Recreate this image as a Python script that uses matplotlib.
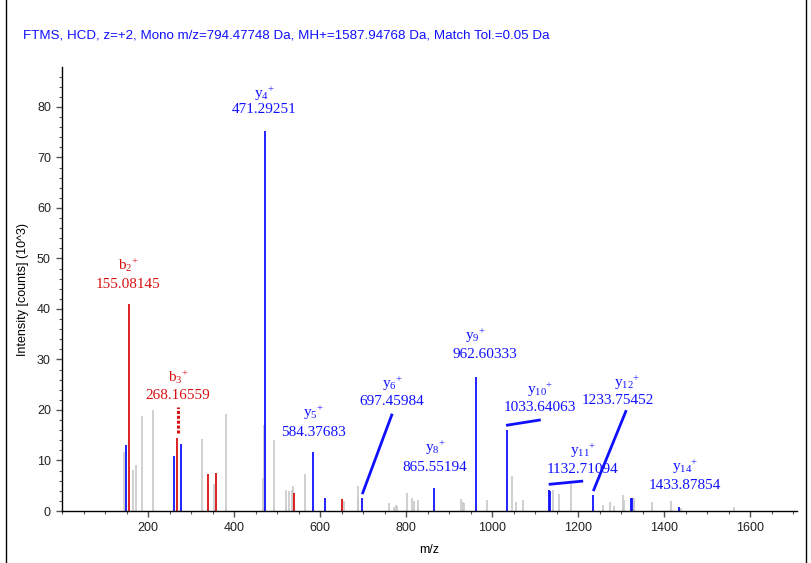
import matplotlib
matplotlib.use('Agg')
import matplotlib.pyplot as plt
from matplotlib.ticker import MultipleLocator
from matplotlib.lines import Line2D

plt.rcParams['mathtext.fontset'] = 'custom'
plt.rcParams['mathtext.rm'] = 'Liberation Serif'
plt.rcParams['mathtext.it'] = 'Liberation Serif:italic'

# spectrum peaks (m/z, intensity in 10^3 counts)
gray_mz = [144.9, 166.0, 172.0, 185.0, 212.0, 326.0, 352.7, 381.4, 466.7, 470.0,
           493.8, 521.0, 528.5, 534.0, 537.0, 565.0, 656.6, 687.6, 689.0, 761.0,
           773.0, 777.0, 780.0, 801.5, 813.0, 819.0, 828.7, 927.0, 933.0, 935.7,
           989.0, 1045.7, 1055.0, 1071.0, 1142.0, 1156.6, 1184.5, 1257.0, 1274.0,
           1283.0, 1304.0, 1306.0, 1329.0, 1330.5, 1371.0, 1415.5, 1440.0, 1563.5]
gray_int = [11.7, 8.1, 9.1, 18.8, 20.0, 14.2, 5.3, 19.3, 6.6, 17.0,
            14.1, 4.2, 4.0, 4.2, 5.0, 7.3, 2.0, 5.0, 2.4, 1.5,
            0.8, 1.2, 1.0, 3.6, 2.5, 2.0, 2.2, 2.4, 1.8, 1.6,
            2.1, 6.9, 1.7, 2.1, 4.2, 3.3, 5.3, 1.1, 1.7,
            0.9, 3.1, 2.2, 2.0, 2.6, 1.8, 2.0, 0.5, 0.8]

blue_mz = [148.8, 259.7, 276.7, 471.29251, 584.37683, 610.9, 697.45984, 865.55194,
           962.60333, 1033.64063, 1132.71094, 1134.6, 1233.75452, 1322.5, 1325.3, 1433.87854]
blue_int = [13.1, 10.9, 13.2, 75.2, 11.6, 2.6, 2.6, 4.6,
            26.6, 16.0, 4.2, 4.0, 3.2, 2.6, 2.6, 0.8]

red_mz = [155.08145, 268.16559, 338.8, 357.4, 539.5, 652.0]
red_int = [41.0, 14.4, 7.3, 7.5, 3.6, 2.4]

# annotated fragment ions
ion_letter = ['b', 'b', 'y', 'y', 'y', 'y', 'y', 'y', 'y', 'y', 'y']
ion_number = ['2', '3', '4', '5', '6', '8', '9', '10', '11', '12', '14']
ion_mz = ['155.08145', '268.16559', '471.29251', '584.37683', '697.45984', '865.55194',
          '962.60333', '1033.64063', '1132.71094', '1233.75452', '1433.87854']

# label layout (data coords): number line centre, name line centre
num_pos = [(153.5, 44.9), (269.8, 22.8), (469.8, 79.4), (583.7, 15.6), (767.4, 21.6),
           (867.4, 8.7), (983.7, 30.9), (1111.6, 20.4), (1209.3, 8.3), (1293.0, 21.8),
           (1448.8, 5.1)]
name_pos = [(155.8, 48.7), (269.8, 26.5), (472.0, 82.6), (583.7, 19.4), (767.4, 25.1),
            (867.4, 12.5), (960.5, 34.7), (1111.6, 24.0), (1211.6, 11.9), (1314.0, 25.3),
            (1448.8, 8.7)]
# leader lines: ion index -> (x0, y0, x1, y1)
leaders = {4: (699.3, 3.6, 766.7, 19.0),
           7: (1035.6, 17.0, 1110.0, 18.0),
           8: (1134.9, 5.3, 1208.6, 5.9),
           9: (1236.5, 4.2, 1310.9, 19.7)}

GRAY = '#c8c8c8'
BLUE = '#1010ff'
RED = '#d81010'
SERIF = ['Liberation Serif', 'DejaVu Serif']
SANS = ['Liberation Sans', 'DejaVu Sans']

fig = plt.figure(figsize=(8.11, 5.63), dpi=100)
ax = fig.add_axes([62 / 811, 52 / 563, 735 / 811, 444 / 563])

ax.vlines(gray_mz, 0, gray_int, color=GRAY, lw=1.2)
ax.vlines(red_mz, 0, red_int, color=RED, lw=1.3)
ax.vlines(blue_mz, 0, blue_int, color=BLUE, lw=1.3)

for i, letter in enumerate(ion_letter):
    c = RED if letter == 'b' else BLUE
    name = r'$\mathrm{{%s}_{%s}}^{+}$' % (letter, ion_number[i])
    ax.text(*num_pos[i], ion_mz[i], color=c, fontsize=11, family=SERIF,
            ha='center', va='center')
    ax.text(*name_pos[i], name, color=c, fontsize=11, ha='center', va='center')

for i, (x0, y0, x1, y1) in leaders.items():
    ax.plot([x0, x1], [y0, y1], color=BLUE, lw=2)
# dotted connector for b3
ax.plot([269.8, 269.8], [15.4, 20.6], color=RED, lw=2.2, ls=(0, (1, 0.6)))

ax.set_xlim(0, 1709)
ax.set_ylim(0, 87.9)
ax.xaxis.set_major_locator(MultipleLocator(200))
ax.xaxis.set_minor_locator(MultipleLocator(50))
ax.yaxis.set_major_locator(MultipleLocator(10))
ax.yaxis.set_minor_locator(MultipleLocator(2))
ax.set_xticks([200, 400, 600, 800, 1000, 1200, 1400, 1600])
ax.tick_params(which='major', length=4.5, width=1, color='#555555', labelsize=9,
               labelcolor='#222222')
ax.tick_params(which='minor', length=2.2, width=0.8, color='#555555')
for lab in ax.get_xticklabels() + ax.get_yticklabels():
    lab.set_family(SANS)
for s in ['top', 'right']:
    ax.spines[s].set_visible(False)
ax.spines['left'].set_linewidth(1)
ax.spines['bottom'].set_linewidth(1)

ax.set_xlabel('m/z', fontsize=9, family=SANS, labelpad=7)
ax.set_ylabel('Intensity [counts] (10^3)', fontsize=9, family=SANS, labelpad=6)

fig.text(23 / 811, 1 - 36 / 563,
         'FTMS, HCD, z=+2, Mono m/z=794.47748 Da, MH+=1587.94768 Da, Match Tol.=0.05 Da',
         color=BLUE, fontsize=9.6, family=SANS, va='center', ha='left')

# outer frame
fig.add_artist(Line2D([5.5 / 811, 5.5 / 811], [0, 1], color='black', lw=1,
                      transform=fig.transFigure))
fig.add_artist(Line2D([806 / 811, 806 / 811], [0, 1], color='black', lw=1,
                      transform=fig.transFigure))

fig.savefig('out.png', dpi=100)
